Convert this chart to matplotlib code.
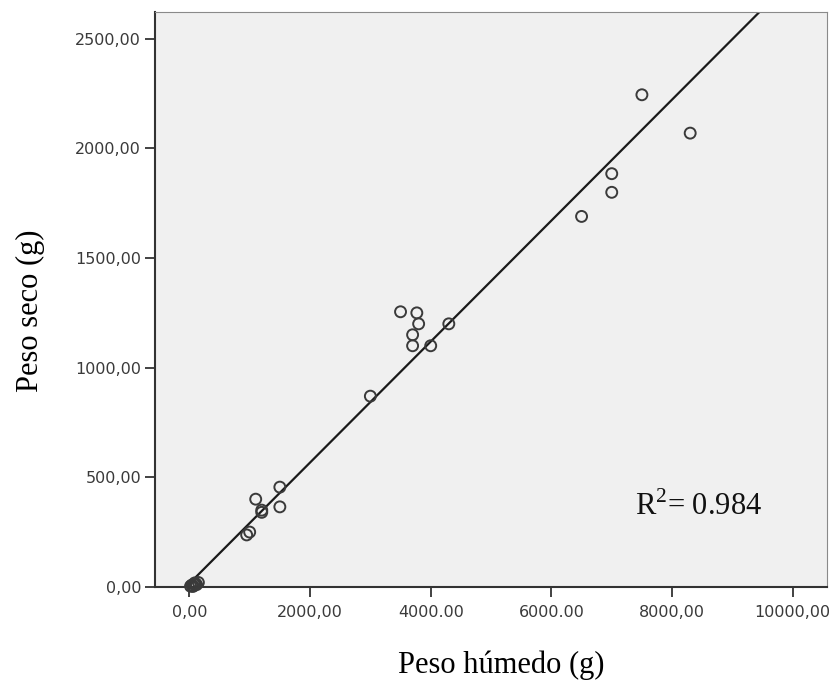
import matplotlib
matplotlib.use('Agg')
import matplotlib.pyplot as plt
import numpy as np

plt.rcParams['mathtext.fontset'] = 'custom'
plt.rcParams['mathtext.rm'] = 'Liberation Serif'
plt.rcParams['font.family'] = 'DejaVu Sans'

# fresh weight (g) vs dry weight (g)
peso_humedo = [20, 40, 60, 80, 100, 120, 150, 60, 90,
               950, 1000, 1100, 1200, 1200, 1500, 1500,
               3000, 3500, 3770, 3800, 3700, 3700, 4000, 4300,
               6500, 7000, 7000, 7500, 8300]
peso_seco = [3, 8, 5, 12, 15, 10, 20, 2, 18,
             237, 250, 400, 340, 350, 455, 365,
             870, 1255, 1250, 1200, 1150, 1100, 1100, 1200,
             1690, 1800, 1885, 2245, 2070]

# fit line as drawn in the reference
fit_slope = 0.276
fit_intercept = 15.0
r2_text = r'R$^{\mathrm{2}}$= 0.984'

xticks = [0, 2000, 4000, 6000, 8000, 10000]
xticklabels = ['0,00', '2000,00', '4000.00', '6000.00', '8000,00', '10000,00']
yticks = [0, 500, 1000, 1500, 2000, 2500]
yticklabels = ['0,00', '500,00', '1000,00', '1500,00', '2000,00', '2500,00']

fig = plt.figure(figsize=(8.33, 6.88), dpi=100)
ax = fig.add_axes([0.186, 0.147, 0.807, 0.836])
ax.set_facecolor('#f0f0f0')

xlim = (-570, 10570)
ylim = (0, 2624)

fx = np.array(xlim)
ax.plot(fx, fit_intercept + fit_slope * fx, color='#1a1a1a', lw=1.6, zorder=2)

ax.scatter(peso_humedo, peso_seco, s=62, facecolors='none',
           edgecolors='#3a3a3a', linewidths=1.4, zorder=3, clip_on=False)

ax.set_xlim(*xlim)
ax.set_ylim(*ylim)

ax.set_xticks(xticks)
ax.set_xticklabels(xticklabels)
ax.set_yticks(yticks)
ax.set_yticklabels(yticklabels)

ax.tick_params(axis='both', direction='out', length=7, width=1.3, color='#333333',
               labelsize=11.5, labelcolor='#3a3a3a')
ax.tick_params(axis='x', pad=6)
ax.tick_params(axis='y', pad=3)

ax.spines['left'].set_color('#333333')
ax.spines['left'].set_linewidth(1.5)
ax.spines['bottom'].set_color('#333333')
ax.spines['bottom'].set_linewidth(1.5)
ax.spines['top'].set_color('#8a8a8a')
ax.spines['right'].set_color('#8a8a8a')

ax.set_xlabel('Peso húmedo (g)', family='Liberation Serif', fontsize=22)
ax.set_ylabel('Peso seco (g)', family='Liberation Serif', fontsize=22)
ax.xaxis.set_label_coords(0.515, -0.11)
ax.yaxis.set_label_coords(-0.163, 0.48)

ax.text(7380, 330, r2_text, family='Liberation Serif', fontsize=22, color='#111111')

fig.savefig('out.png', dpi=100, facecolor='white')
